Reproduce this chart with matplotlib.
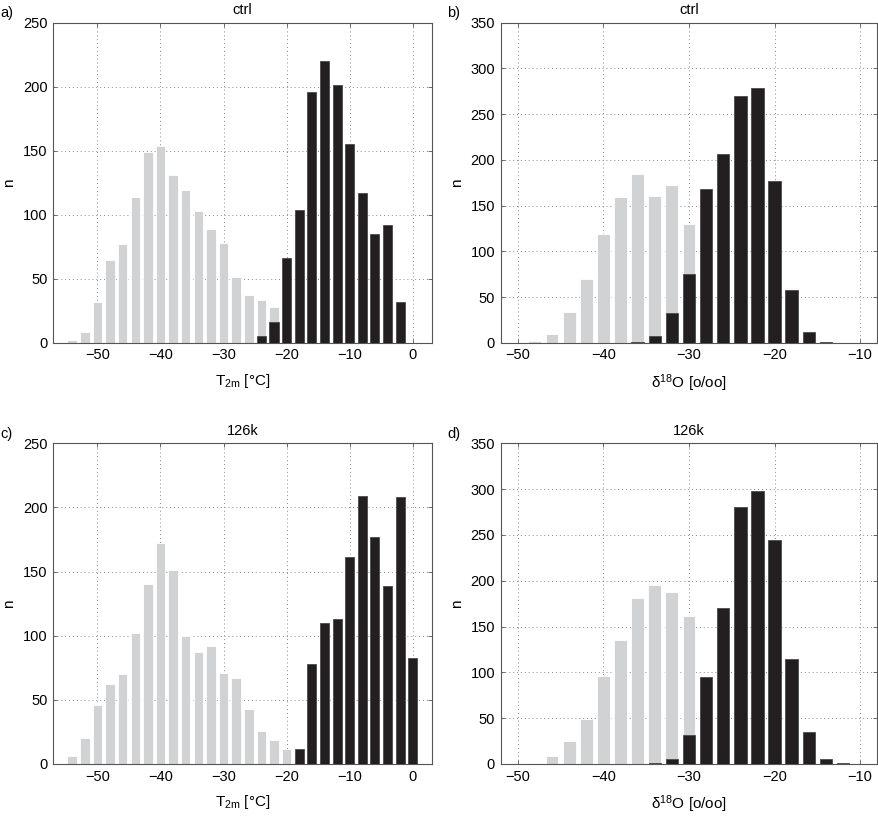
import numpy as np
import matplotlib
matplotlib.use("Agg")
import matplotlib.pyplot as plt

# -----------------------
# Data
# -----------------------

# T2m bins (centres, degC)
t_ctrl_cold_x = [-54, -52, -50, -48, -46, -44, -42, -40, -38, -36, -34, -32, -30, -28, -26, -24, -22]
t_ctrl_cold_n = [2, 8, 32, 65, 77, 114, 149, 154, 131, 119, 103, 89, 78, 51, 37, 33, 28]
t_ctrl_warm_x = [-24, -22, -20, -18, -16, -14, -12, -10, -8, -6, -4, -2]
t_ctrl_warm_n = [5, 16, 66, 104, 196, 220, 201, 155, 117, 85, 92, 32]

t_126k_cold_x = [-54, -52, -50, -48, -46, -44, -42, -40, -38, -36, -34, -32, -30, -28, -26, -24, -22, -20]
t_126k_cold_n = [6, 20, 46, 62, 70, 102, 140, 172, 151, 100, 87, 92, 71, 67, 43, 26, 19, 12]
t_126k_warm_x = [-18, -16, -14, -12, -10, -8, -6, -4, -2, 0]
t_126k_warm_n = [12, 78, 110, 113, 161, 209, 177, 139, 208, 83]

# d18O bins (centres, permil)
d_ctrl_cold_x = [-48, -46, -44, -42, -40, -38, -36, -34, -32, -30]
d_ctrl_cold_n = [2, 10, 34, 70, 119, 159, 185, 160, 172, 130]
d_ctrl_warm_x = [-36, -34, -32, -30, -28, -26, -24, -22, -20, -18, -16, -14]
d_ctrl_warm_n = [1, 7, 32, 75, 168, 206, 270, 279, 177, 58, 12, 1]

d_126k_cold_x = [-48, -46, -44, -42, -40, -38, -36, -34, -32, -30]
d_126k_cold_n = [1, 9, 25, 49, 96, 135, 181, 195, 188, 162]
d_126k_warm_x = [-34, -32, -30, -28, -26, -24, -22, -20, -18, -16, -14, -12]
d_126k_warm_n = [1, 5, 32, 95, 170, 281, 298, 245, 115, 35, 5, 1]

# -----------------------
# Style
# -----------------------

plt.rcParams["font.family"] = ["Liberation Sans", "DejaVu Sans"]
plt.rcParams["mathtext.fontset"] = "custom"
plt.rcParams["mathtext.rm"] = "Liberation Sans"
plt.rcParams["mathtext.it"] = "Liberation Sans"
plt.rcParams["axes.unicode_minus"] = True

GRAY = "#d0d2d4"
BLACK = "#231f20"
FRAME = "#555555"
FS = 10.5

fig = plt.figure(figsize=(8.79, 8.17), dpi=100)

positions = {
    "a": [0.0606, 0.5805, 0.4305, 0.3917],
    "b": [0.5696, 0.5805, 0.4284, 0.3917],
    "c": [0.0606, 0.0649, 0.4305, 0.3925],
    "d": [0.5696, 0.0649, 0.4284, 0.3925],
}

panels = [
    ("a", "ctrl", t_ctrl_cold_x, t_ctrl_cold_n, t_ctrl_warm_x, t_ctrl_warm_n, "T"),
    ("b", "ctrl", d_ctrl_cold_x, d_ctrl_cold_n, d_ctrl_warm_x, d_ctrl_warm_n, "d"),
    ("c", "126k", t_126k_cold_x, t_126k_cold_n, t_126k_warm_x, t_126k_warm_n, "T"),
    ("d", "126k", d_126k_cold_x, d_126k_cold_n, d_126k_warm_x, d_126k_warm_n, "d"),
]

for key, title, cx, cn, wx, wn, kind in panels:

    ax = fig.add_axes(positions[key])

    ax.bar(cx, cn, width=1.5, color=GRAY, edgecolor="white", linewidth=0.6, zorder=2)
    ax.bar(wx, wn, width=1.45, color=BLACK, edgecolor="#4a4a4a", linewidth=0.6, zorder=3)

    if kind == "T":
        ax.set_xlim(-57, 3)
        ax.set_ylim(0, 250)
        ax.set_xticks([-50, -40, -30, -20, -10, 0])
        ax.set_yticks([0, 50, 100, 150, 200, 250])
        ax.set_xlabel(r"T$_{\rm 2m}$ [°C]", fontsize=FS + 0.5, labelpad=7)
    else:
        ax.set_xlim(-52, -8)
        ax.set_ylim(0, 350)
        ax.set_xticks([-50, -40, -30, -20, -10])
        ax.set_yticks([0, 50, 100, 150, 200, 250, 300, 350])
        ax.set_xlabel(r"δ$^{\rm 18}$O [o/oo]", fontsize=FS + 0.5, labelpad=7)

    ax.set_ylabel("n", fontsize=FS + 0.5, labelpad=5)
    ax.set_title(title, fontsize=FS, pad=6)

    ax.grid(True, linestyle=(0, (1, 3)), color="#888888", linewidth=0.7, zorder=0)
    ax.set_axisbelow(True)

    ax.tick_params(direction="in", top=True, right=True, length=3,
                   width=0.6, color=FRAME, labelsize=FS, pad=4)
    for s in ax.spines.values():
        s.set_color(FRAME)
        s.set_linewidth(0.8)

    bbox = positions[key]
    fig.text(bbox[0] - 0.0606, bbox[1] + bbox[3] + 0.003, key + ")",
             fontsize=FS, ha="left", va="bottom")

fig.savefig("out.png", dpi=100)
